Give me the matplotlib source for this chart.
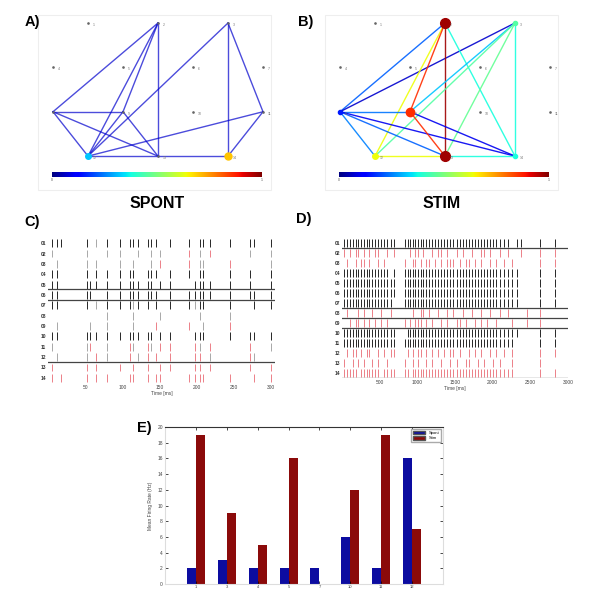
import numpy as np
import matplotlib.pyplot as plt
from matplotlib.patches import Rectangle, Patch

plt.rcParams['font.family'] = ['Liberation Sans', 'DejaVu Sans']

# electrode layout (14 sites, staggered rows)
node_x = [0.5, 1.5, 2.5, 0, 1, 2, 3, 0, 1, 2, 3, 0.5, 1.5, 2.5]
node_y = [3, 3, 3, 2, 2, 2, 2, 1, 1, 1, 1, 0, 0, 0]

# functional connections, spontaneous activity (node a, node b, weight)
spont_edges = [(2, 8), (2, 13), (2, 12), (2, 9), (3, 12), (8, 9), (8, 12), (8, 13),
               (9, 13), (9, 12), (12, 13), (13, 14), (12, 11), (3, 14), (3, 11), (11, 14)]
spont_weights = [0.07] * len(spont_edges)
spont_nodes = [12, 14]
spont_node_vals = [0.32, 0.70]

# functional connections, stimulated activity
stim_edges = [(2, 8), (3, 8), (2, 12), (2, 9), (2, 13), (2, 14), (3, 14), (3, 9),
              (3, 12), (3, 13), (8, 9), (8, 12), (8, 13), (8, 14), (9, 13), (9, 14),
              (12, 13), (13, 14)]
stim_weights = [0.22, 0.07, 0.64, 0.86, 0.97, 0.38, 0.38, 0.32,
                0.45, 0.47, 0.24, 0.25, 0.22, 0.10, 0.86, 0.10,
                0.64, 0.38]
stim_nodes = [2, 13, 9, 12, 3, 14, 8]
stim_node_vals = [0.97, 0.97, 0.86, 0.64, 0.45, 0.38, 0.15]
stim_node_size = [7, 7, 6, 4, 3, 3, 3]

# raster, spontaneous: burst times (ms) and per-channel pattern
spont_times = [5, 12, 17, 53, 57, 65, 79, 97, 110, 114, 121, 134, 139, 145, 150,
               164, 190, 197, 204, 208, 217, 244, 271, 277, 299]
spont_raster = [
    "kkkk.gkkkkkkkk.kk.kkkkkkk",
    "g..g..gg..g.g.g.r.g.r.g.g",
    ".g.g.g.g.g..g.r.r.gg.r..g",
    "kk.k.kkkkk.kkk.kk.kk.kk.k",
    "kk.kkkkkkkkkk.kk.kkkkkk.k",
    "kk.kk.kkkkkkkk.kkkkkkkkkk",
    "kk.k.gkkkgkk.k.kkgkk.k.kk",
    "......g..g....g...g..g...",
    ".g..g.g..g...r..r..g.r...",
    "kk.kkkkkkkkkk.kk.kkk.kkkk",
    "g..gr.g.rg.rg.rr.rg.r.r.g",
    ".g.g.rg.r.gr.r.r.rr.g.rg.",
    "r..r.r.r.r.r..rr.rr.r.r.r",
    "r.rr.rr.rr.r.rr.rrrr.r.rr",
]
spont_lines = [5, 6, 12]

# raster, stimulated
stim_times = [30, 70, 100, 140, 180, 215, 250, 290, 330, 365,
              400, 440, 480, 520, 560, 600, 650, 690, 830, 870,
              905, 940, 975, 1010, 1045, 1080, 1120, 1160, 1200, 1240,
              1280, 1320, 1360, 1400, 1440, 1480, 1520, 1560, 1600, 1640,
              1680, 1720, 1760, 1800, 1840, 1880, 1920, 1960, 2000, 2050,
              2100, 2150, 2200, 2260, 2320, 2380, 2450, 2630, 2830]
stim_raster = [
    "kkkkkkkkkk kkkkkkkkkk kkkkkkkkkk kkkkkkkkkk kkkkkkkkkk kkk.kk.kk",
    "r.r.rr.r.r .rr..r.r.. r.rr.r..r. rr.r..r.r. .r..rr.r.. r.r..r.rr",
    ".r..r.rr.r ..r.r...r. .rr.r.rr.r .r.rrr.r.r r.r.r..r.r .r.r...rr",
    "kkkkkkkkkk kkkkkk.kkk kkkkkkkkkk kkkkkkkkkk kkkkkkkkkk kkkkk..kk",
    "kkkkkkkkkk kkkkkkkkkk kkkkkkkkkk kkkkkkkkkk kkkkkkkkkk kkkkk..kk",
    "kkkkkkkkkk kkkkkkkkkk kkkkkkkkkk kkkkkkkkkk kkkkkkkkkk kkkkk..kk",
    "kkkkkkkkkk kkkkkkk.kk kkkkkkkkkk kkkkkkkkkk kkkkkkkkkk kkkkk..kk",
    ".r...r.r.. r..r..r... .r..rr.r.. r..r.r..r. .r..r..r.. r.r...rr.",
    "..r.rr.r.r .r.r.r..r. r.rrr.r.r. .r.r..rr.r ..r.r.r..r ...r..rr.",
    "kkkkkkkkkk kkkkkkkk.k kkkkkkkkkk kkkkkkkkkk kkkkkkkkkk kkkkk..kk",
    "kkkkkkkkkk kkkkkkkkkk kkkkkkkkkk kkkkkkkkkk kkkkkkkkkk kkkk...kk",
    ".r.rr.r.rr ..r.r.rr.r .r.rr.r.r. r.r.rr.r.. r.r.r..r.r .r.r...rr",
    "r..r.r.r.. r.r..r..r. .r.r..r.r. .r..r.r..r r..r.r..r. r..r...r.",
    "rrrrr.rrrr rrr.rrrrrr .rrrrrrrrr rrrrrrrrrr rrrrrrrrrr rrrr...rr",
]
stim_lines = [1, 7, 8, 9, 14]

# mean firing rate per electrode
electrodes = ['1', '3', '4', '5', '7', '10', '11', '12']
rate_spont = [2, 3, 2, 2, 2, 6, 2, 16]
rate_stim = [19, 9, 5, 16, 0, 12, 19, 7]

W, H = 590, 592
fig = plt.figure(figsize=(5.9, 5.92), dpi=100)
jet = plt.get_cmap('jet')


def px_axes(x0, y0, x1, y1):
    return fig.add_axes([x0 / W, 1 - y1 / H, (x1 - x0) / W, (y1 - y0) / H])


def draw_network(x0, edges, weights, nodes, vals, sizes, alpha):
    fig.add_artist(Rectangle(((x0 - 2) / W, 1 - 190 / H), 233 / W, 175 / H,
                             transform=fig.transFigure, fill=False,
                             edgecolor='#eeeeee', lw=0.8))
    ax = px_axes(x0, 15, x0 + 233, 165)
    for (a, b), w in zip(edges, weights):
        ax.plot([node_x[a - 1], node_x[b - 1]], [node_y[a - 1], node_y[b - 1]],
                color=jet(w), lw=1.0, alpha=alpha, zorder=1)
    ax.scatter(node_x, node_y, s=0.8, color='#666666', zorder=2)
    for n, v, s in zip(nodes, vals, sizes):
        ax.plot(node_x[n - 1], node_y[n - 1], 'o', ms=s, color=jet(v),
                mec=jet(v), zorder=3)
    for i in range(14):
        ax.text(node_x[i] + 0.07, node_y[i] - 0.04, str(i + 1), fontsize=2.5,
                color='#777777', va='center')
    ax.set_xlim(-0.186, 3.143)
    ax.set_ylim(-0.2, 3.18)
    ax.axis('off')

    cax = px_axes(x0 + 12, 172, x0 + 222, 177)
    cax.imshow(np.linspace(0, 1, 256)[None, :], aspect='auto', cmap='jet',
               extent=[0, 1, 0, 1])
    cax.set_xticks([0, 1])
    cax.set_xticklabels(['0', '1'], fontsize=2.5, color='#555555')
    cax.tick_params(length=0, pad=1)
    cax.set_yticks([])
    for s in cax.spines.values():
        s.set_visible(False)


draw_network(40, spont_edges, spont_weights, spont_nodes, spont_node_vals, [4, 5], 0.7)
draw_network(327, stim_edges, stim_weights, stim_nodes, stim_node_vals,
             stim_node_size, 0.9)

fig.text(157 / W, 1 - 203 / H, 'SPONT', ha='center', va='center', fontsize=11.5,
         fontweight='bold')
fig.text(442 / W, 1 - 203 / H, 'STIM', ha='center', va='center', fontsize=11.5,
         fontweight='bold')

tick_colors = {'k': '#262626', 'r': '#ec8088', 'g': '#a8a8a8'}


def draw_raster(ax, times, raster, lines, xmax, xticks):
    for ch, row in enumerate(raster, start=1):
        row = row.replace(' ', '')
        for t, c in zip(times, row):
            if c != '.':
                ax.vlines(t, ch - 0.38, ch + 0.38, color=tick_colors[c], lw=0.7)
    for ch in lines:
        ax.axhline(ch + 0.45, color='#444444', lw=0.9)
    ax.set_xlim(0, xmax)
    ax.set_ylim(14.5, 0.5)
    ax.set_yticks(range(1, 15))
    ax.set_yticklabels(['%02d' % i for i in range(1, 15)], fontsize=3.5,
                       fontweight='bold', color='#333333')
    ax.set_xticks(xticks)
    ax.set_xticklabels([str(t) for t in xticks], fontsize=3.5, color='#444444')
    ax.tick_params(length=0, pad=1.5)
    ax.set_xlabel('Time [ms]', fontsize=3.5, labelpad=1, color='#444444')
    for s in ax.spines.values():
        s.set_visible(False)


axc = px_axes(48, 238, 275, 383)
draw_raster(axc, spont_times, spont_raster, spont_lines, 305,
            [50, 100, 150, 200, 250, 300])
axd = px_axes(342, 238, 568, 378)
draw_raster(axd, stim_times, stim_raster, stim_lines, 3000,
            [500, 1000, 1500, 2000, 2500, 3000])

# bar chart of firing rates
axe = px_axes(165, 427, 443, 584)
x = np.arange(1, len(electrodes) + 1)
w = 0.29
axe.bar(x - w / 2, rate_spont, w, color='#0c0ca0', label='Spont')
axe.bar(x + w / 2, rate_stim, w, color='#8b0a0a', label='Stim')
axe.set_xlim(0, 9)
axe.set_ylim(0, 20)
axe.set_xticks(x)
axe.set_xticklabels(electrodes, fontsize=3, color='#444444')
axe.set_yticks(range(0, 21, 2))
axe.set_yticklabels([str(v) for v in range(0, 21, 2)], fontsize=3.5, color='#444444')
axe.tick_params(direction='in', length=2, width=0.5, right=True, top=True, pad=1.5)
axe.tick_params(axis='x', pad=0.8)
axe.set_ylabel('Mean Firing Rate (Hz)', fontsize=3.5, labelpad=3, color='#444444')
for name, s in axe.spines.items():
    s.set_color('#333333' if name == 'top' else '#dddddd')
    s.set_linewidth(0.8)
axe.legend(handles=[Patch(facecolor='#0c0ca0', edgecolor='#555555', label='Spont'),
                    Patch(facecolor='#8b0a0a', edgecolor='#555555', label='Stim')],
           loc='upper right', fontsize=3, handlelength=3, handleheight=0.9,
           borderpad=0.4, labelspacing=0.3, framealpha=1, edgecolor='#aaaaaa',
           fancybox=False)

# panel letters
for lbl, px, py in [('A)', 32, 22), ('B)', 306, 22), ('C)', 32, 222),
                    ('D)', 304, 219), ('E)', 144, 428)]:
    fig.text(px / W, 1 - py / H, lbl, ha='center', va='center', fontsize=10.5,
             fontweight='bold')

fig.savefig('out.png', dpi=100)
